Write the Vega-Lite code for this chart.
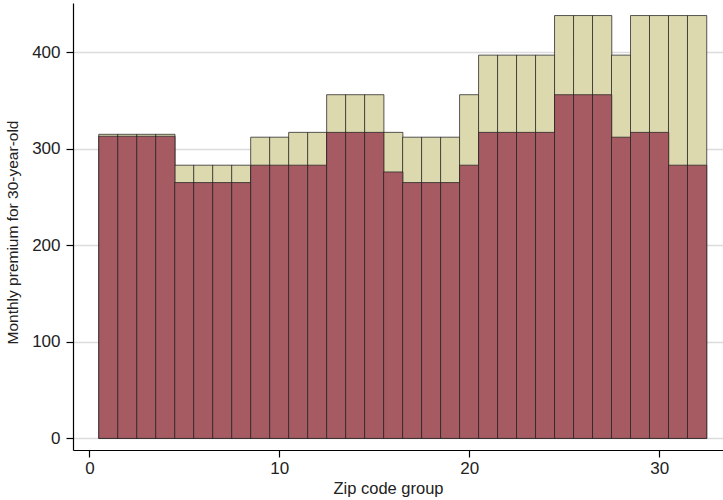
{
  "$schema": "https://vega.github.io/schema/vega-lite/v6.json",
  "width": 650,
  "height": 447,
  "autosize": "none",
  "padding": {"left": 73, "top": 3, "right": 0, "bottom": 50},
  "data": {
    "values": [
      {"zip": 1, "lower": 313, "upper": 315},
      {"zip": 2, "lower": 313, "upper": 315},
      {"zip": 3, "lower": 313, "upper": 315},
      {"zip": 4, "lower": 313, "upper": 315},
      {"zip": 5, "lower": 265, "upper": 283},
      {"zip": 6, "lower": 265, "upper": 283},
      {"zip": 7, "lower": 265, "upper": 283},
      {"zip": 8, "lower": 265, "upper": 283},
      {"zip": 9, "lower": 283, "upper": 312},
      {"zip": 10, "lower": 283, "upper": 312},
      {"zip": 11, "lower": 283, "upper": 317},
      {"zip": 12, "lower": 283, "upper": 317},
      {"zip": 13, "lower": 317, "upper": 356},
      {"zip": 14, "lower": 317, "upper": 356},
      {"zip": 15, "lower": 317, "upper": 356},
      {"zip": 16, "lower": 276, "upper": 317},
      {"zip": 17, "lower": 265, "upper": 312},
      {"zip": 18, "lower": 265, "upper": 312},
      {"zip": 19, "lower": 265, "upper": 312},
      {"zip": 20, "lower": 283, "upper": 356},
      {"zip": 21, "lower": 317, "upper": 397},
      {"zip": 22, "lower": 317, "upper": 397},
      {"zip": 23, "lower": 317, "upper": 397},
      {"zip": 24, "lower": 317, "upper": 397},
      {"zip": 25, "lower": 356, "upper": 438},
      {"zip": 26, "lower": 356, "upper": 438},
      {"zip": 27, "lower": 356, "upper": 438},
      {"zip": 28, "lower": 312, "upper": 397},
      {"zip": 29, "lower": 317, "upper": 438},
      {"zip": 30, "lower": 317, "upper": 438},
      {"zip": 31, "lower": 283, "upper": 438},
      {"zip": 32, "lower": 283, "upper": 438}
    ]
  },
  "encoding": {
    "x": {
      "field": "zip",
      "type": "quantitative",
      "scale": {"domain": [-0.6, 33.1], "nice": false, "zero": false},
      "axis": {
        "values": [0, 10, 20, 30],
        "title": "Zip code group",
        "grid": false,
        "domainColor": "#000",
        "tickColor": "#000",
        "tickSize": 7,
        "labelPadding": 3,
        "titleFontSize": 16.5,
        "titlePadding": 4,
        "titleX": 315
      }
    }
  },
  "layer": [
    {
      "mark": {"type": "bar", "width": 19.26, "color": "#ddd9ae", "stroke": "#222", "strokeOpacity": 0.75, "strokeWidth": 1},
      "encoding": {
        "y": {
          "field": "upper",
          "type": "quantitative",
          "scale": {"domain": [-12, 451], "nice": false, "zero": false},
          "axis": {
            "values": [0, 100, 200, 300, 400],
            "title": "Monthly premium for 30-year-old",
            "grid": true,
            "gridColor": "#dcdcdc",
            "gridWidth": 1.5,
            "domainColor": "#000",
            "tickColor": "#000",
            "tickSize": 7,
            "labelPadding": 6,
            "titleFontSize": 15.5,
            "titlePadding": 11,
            "titleY": 229
          }
        },
        "y2": {"datum": 0}
      }
    },
    {
      "mark": {"type": "bar", "width": 19.26, "color": "#a65b63", "stroke": "#222", "strokeOpacity": 0.75, "strokeWidth": 1},
      "encoding": {
        "y": {"field": "lower", "type": "quantitative"},
        "y2": {"datum": 0}
      }
    }
  ],
  "config": {
    "view": {"stroke": null},
    "font": "Liberation Sans",
    "axis": {
      "labelFont": "Liberation Sans",
      "titleFont": "Liberation Sans",
      "labelFontSize": 17,
      "titleFontWeight": "normal",
      "labelColor": "#222",
      "titleColor": "#222",
      "domainWidth": 1.2,
      "tickWidth": 1.2
    }
  }
}
